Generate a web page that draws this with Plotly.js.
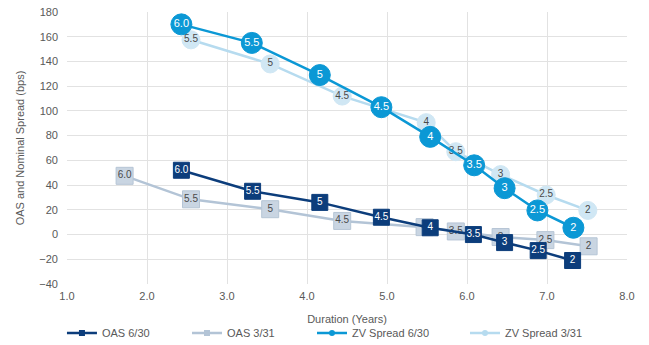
<!DOCTYPE html>
<html>
<head>
<meta charset="utf-8">
<script src="https://cdn.plot.ly/plotly-3.0.1.min.js"></script>
<style>
  html, body { margin: 0; padding: 0; background: #ffffff; }
  #chart { width: 649px; height: 345px; }
</style>
</head>
<body>
<div id="chart"></div>
<script>
// Duration (years) and spread (bps) by coupon, two dates
const oas630Dur   = [2.43, 3.32, 4.16, 4.93, 5.54, 6.08, 6.47, 6.89, 7.32];
const oas630Bps   = [52, 35, 26, 14, 5.5, 0, -6.5, -13, -21];
const oas630Lbl   = ['6.0', '5.5', '5', '4.5', '4', '3.5', '3', '2.5', '2'];

const oas331Dur   = [1.72, 2.55, 3.54, 4.44, 5.47, 5.86, 6.42, 6.98, 7.52];
const oas331Bps   = [47.5, 28.5, 20.5, 11, 6, 2.5, -2, -4.5, -9.5];
const oas331Lbl   = ['6.0', '5.5', '5', '4.5', '4', '3.5', '3', '2.5', '2'];

const zv630Dur    = [2.43, 3.31, 4.16, 4.93, 5.54, 6.09, 6.47, 6.88, 7.33];
const zv630Bps    = [170, 155, 129, 103, 79, 56, 37.5, 19.5, 5.5];
const zv630Lbl    = ['6.0', '5.5', '5', '4.5', '4', '3.5', '3', '2.5', '2'];

const zv331Dur    = [2.55, 3.54, 4.44, 5.49, 5.86, 6.42, 6.99, 7.51];
const zv331Bps    = [157.5, 138, 112, 90.5, 67, 48.5, 32, 19.5];
const zv331Lbl    = ['5.5', '5', '4.5', '4', '3.5', '3', '2.5', '2'];

const seriesNames = ['OAS 6/30', 'OAS 3/31', 'ZV Spread 6/30', 'ZV Spread 3/31'];

const FONT = 'Liberation Sans, Arial, sans-serif';
const GREY = '#595959';

const C_OAS630 = '#0c3d7b';
const C_OAS331_LINE = '#b3c4d6';
const C_OAS331_FILL = '#c9d5e2';
const C_ZV630 = '#0b98d5';
const C_ZV331_LINE = '#b6dbef';
const C_ZV331_FILL = '#d0e7f4';

function dataTrace(x, y, labels, opts) {
  return {
    type: 'scatter',
    mode: 'lines+markers+text',
    x: x, y: y, text: labels,
    textposition: 'middle center',
    textfont: { family: FONT, size: opts.textSize, color: opts.textColor },
    line: { color: opts.line, width: 2.5 },
    marker: {
      symbol: opts.symbol, size: opts.size, color: opts.fill,
      line: { color: opts.border, width: 1 }
    },
    showlegend: false,
    hoverinfo: 'x+y'
  };
}

function legendTrace(name, color, symbol, legendId) {
  return {
    type: 'scatter',
    mode: 'lines+markers',
    x: [null], y: [null],
    name: name,
    legend: legendId,
    line: { color: color, width: 2.5 },
    marker: { symbol: symbol, size: 6, color: color }
  };
}

const traces = [
  dataTrace(oas331Dur, oas331Bps, oas331Lbl, {
    symbol: 'square', size: 17, fill: C_OAS331_FILL, border: '#b6c5d5',
    line: C_OAS331_LINE, textColor: '#4a4a4a', textSize: 10
  }),
  dataTrace(zv331Dur, zv331Bps, zv331Lbl, {
    symbol: 'circle', size: 18, fill: C_ZV331_FILL, border: C_ZV331_FILL,
    line: C_ZV331_LINE, textColor: '#4a4a4a', textSize: 10
  }),
  dataTrace(oas630Dur, oas630Bps, oas630Lbl, {
    symbol: 'square', size: 16, fill: C_OAS630, border: C_OAS630,
    line: C_OAS630, textColor: '#ffffff', textSize: 10
  }),
  dataTrace(zv630Dur, zv630Bps, zv630Lbl, {
    symbol: 'circle', size: 21, fill: C_ZV630, border: C_ZV630,
    line: C_ZV630, textColor: '#ffffff', textSize: 11
  }),
  legendTrace(seriesNames[0], C_OAS630, 'square', 'legend'),
  legendTrace(seriesNames[1], C_OAS331_LINE, 'square', 'legend2'),
  legendTrace(seriesNames[2], C_ZV630, 'circle', 'legend3'),
  legendTrace(seriesNames[3], C_ZV331_LINE, 'circle', 'legend4')
];

function legendAt(x) {
  return {
    orientation: 'h', x: x, xanchor: 'left', y: -0.18, yanchor: 'middle',
    font: { family: FONT, size: 11, color: GREY },
    bgcolor: 'rgba(0,0,0,0)', borderwidth: 0
  };
}

const layout = {
  width: 649, height: 345,
  margin: { l: 67, r: 22, t: 12, b: 61, autoexpand: false },
  paper_bgcolor: '#ffffff',
  plot_bgcolor: '#ffffff',
  font: { family: FONT, size: 11, color: GREY },
  xaxis: {
    range: [1, 8], dtick: 1, tick0: 1, tickformat: '.1f',
    showgrid: true, gridcolor: '#e2e2e2', gridwidth: 1,
    zeroline: false, showline: false, ticks: '',
    ticklabelstandoff: 4,
    tickfont: { family: FONT, size: 11, color: GREY },
    title: { text: 'Duration (Years)', font: { family: FONT, size: 11, color: GREY }, standoff: 14 }
  },
  yaxis: {
    range: [-40, 180], dtick: 20, tick0: 0,
    showgrid: true, gridcolor: '#e2e2e2', gridwidth: 1,
    zeroline: false, showline: false, ticks: '',
    ticklabelstandoff: 8,
    tickfont: { family: FONT, size: 11, color: GREY },
    title: { text: 'OAS and Nominal Spread (bps)', font: { family: FONT, size: 11, color: GREY }, standoff: 12 }
  },
  legend: legendAt(-0.009),
  legend2: legendAt(0.2143),
  legend3: legendAt(0.4375),
  legend4: legendAt(0.7107)
};

Plotly.newPlot('chart', traces, layout, { displayModeBar: false, staticPlot: true });
</script>
</body>
</html>
